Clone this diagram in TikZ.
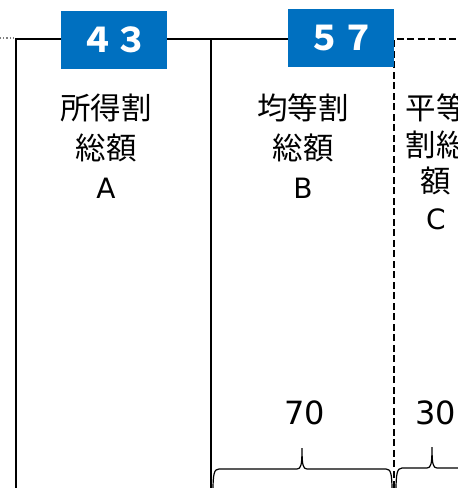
\documentclass[tikz,border=0pt]{standalone}
\usepackage{fontspec}
\setmainfont{DejaVu Sans}
\newfontfamily\jpfont{Noto Sans CJK JP}
\usetikzlibrary{positioning}
\definecolor{boxblue}{RGB}{0,112,192}
\tikzset{
    numbox/.style={fill=boxblue, text=white, minimum width=106pt, minimum height=58pt, inner sep=0pt, font=\jpfont\bfseries\fontsize{34}{34}\selectfont},
    colname/.style={align=center, anchor=north, inner sep=0pt, font=\jpfont\fontsize{30.5}{39.5}\selectfont},
    share/.style={inner sep=0pt, font=\fontsize{32}{32}\selectfont},
    border/.style={line width=2.4pt},
    dashborder/.style={line width=2.4pt, dash pattern=on 7pt off 3.5pt},
}
\newcommand{\latin}[1]{{\normalfont\fontsize{28}{40}\selectfont #1}}
\begin{document}
\begin{tikzpicture}[x=1pt, y=-1pt]
        \useasboundingbox (0, 0) rectangle (458, 488);
        \clip (0, 0) rectangle (458, 488);
        % frame
        \draw[gray, dotted, line width=1.2pt] (0, 38) -- (14, 38);
        \draw[border] (16, 488) -- (16, 39) -- (394, 39);
        \draw[border] (211, 39) -- (211, 488);
        \draw[dashborder] (394, 488) -- (394, 39) -- (460, 39);
        % headers
        \node[numbox] (shareA) at (114, 40) {４３};
        \node[numbox] (shareB) at (341, 38) {５７};
        % column texts
        \node[colname] (colA) at (106, 94) {所得割\\総額\\\latin{A}};
        \node[colname] (colB) at (303, 94) {均等割\\総額\\\latin{B}};
        \node[colname, font=\jpfont\fontsize{30.5}{36.5}\selectfont] (colC) at (436, 94) {平等\\割総\\額\\\latin{C}};
        % ratios
        \node[share] (ratioB) at (305, 413) {70};
        \node[share] (ratioC) at (436, 413) {30};
        % braces
        \draw[line width=1.2pt] (213, 492) .. controls (213, 474) and (214, 469) .. (219, 469) -- (297, 469)
            .. controls (301, 469) and (302, 465) .. (302, 448) .. controls (302, 465) and (303, 469) .. (307, 469)
            -- (386, 469) .. controls (391, 469) and (392, 474) .. (392, 492);
        \draw[line width=1.2pt] (396, 492) .. controls (396, 474) and (397, 468) .. (402, 468) -- (427, 468)
            .. controls (431, 468) and (432, 464) .. (432, 447) .. controls (432, 464) and (433, 468) .. (437, 468)
            -- (470, 468);

    \end{tikzpicture}
\end{document}
